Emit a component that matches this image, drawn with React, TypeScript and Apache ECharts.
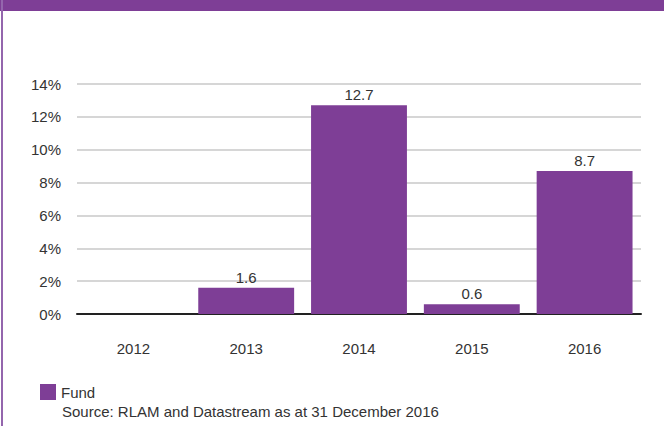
import React, { useEffect, useRef } from "react";
import * as echarts from "echarts";

const categories = ["2012", "2013", "2014", "2015", "2016"];
const fundValues: (number | null)[] = [null, 1.6, 12.7, 0.6, 8.7];
const yTicks = [0, 2, 4, 6, 8, 10, 12, 14];
const seriesName = "Fund";
const sourceText = "Source: RLAM and Datastream as at 31 December 2016";

const PURPLE = "#7E3E96";
const FONT = "'Liberation Sans', Arial, Helvetica, sans-serif";

export default function App() {
  const ref = useRef<HTMLDivElement>(null);
  useEffect(() => {
    document.body.style.margin = "0";
    const chart = echarts.init(ref.current!, null, { renderer: "svg" });
    chart.setOption({
      animation: false,
      backgroundColor: "#ffffff",
      textStyle: { fontFamily: FONT },
      grid: { left: 77, right: 23, top: 84, bottom: 112, containLabel: false },
      legend: {
        data: [seriesName],
        left: 40,
        top: 384,
        padding: 0,
        itemWidth: 16,
        itemHeight: 16,
        itemGap: 5,
        icon: "rect",
        textStyle: { fontSize: 15, color: "#333", fontFamily: FONT },
      },
      xAxis: {
        type: "category",
        data: categories,
        axisLine: { show: true, lineStyle: { color: "#222", width: 2 } },
        axisTick: { show: false },
        axisLabel: { fontSize: 15, color: "#333", margin: 27, fontFamily: FONT },
      },
      yAxis: {
        type: "value",
        min: yTicks[0],
        max: yTicks[yTicks.length - 1],
        interval: 2,
        axisLine: { show: false },
        axisTick: { show: false },
        splitLine: { lineStyle: { color: "#c8c8c8", width: 1.5 } },
        axisLabel: {
          fontSize: 15,
          color: "#333",
          margin: 16,
          fontFamily: FONT,
          formatter: (v: number) => `${v}%`,
        },
      },
      series: [
        {
          name: seriesName,
          type: "bar",
          data: fundValues,
          barCategoryGap: "15%",
          itemStyle: { color: PURPLE },
          label: {
            show: true,
            position: "top",
            distance: 3,
            fontSize: 15,
            color: "#333",
            fontFamily: FONT,
            formatter: (p: any) => (p.value == null ? "" : Number(p.value).toFixed(1)),
          },
          z: 3,
        },
      ],
      graphic: [
        { type: "rect", left: 0, top: 0, shape: { width: 664, height: 11 }, style: { fill: PURPLE }, z: 10 },
        { type: "rect", left: 1, top: 0, shape: { width: 2, height: 426 }, style: { fill: "#9466ad" }, z: 10 },
        {
          type: "text",
          left: 62,
          top: 404,
          style: { text: sourceText, fontSize: 15, fill: "#333", fontFamily: FONT },
        },
      ],
    });
    return () => chart.dispose();
  }, []);
  return <div ref={ref} style={{ width: 664, height: 426 }} />;
}
